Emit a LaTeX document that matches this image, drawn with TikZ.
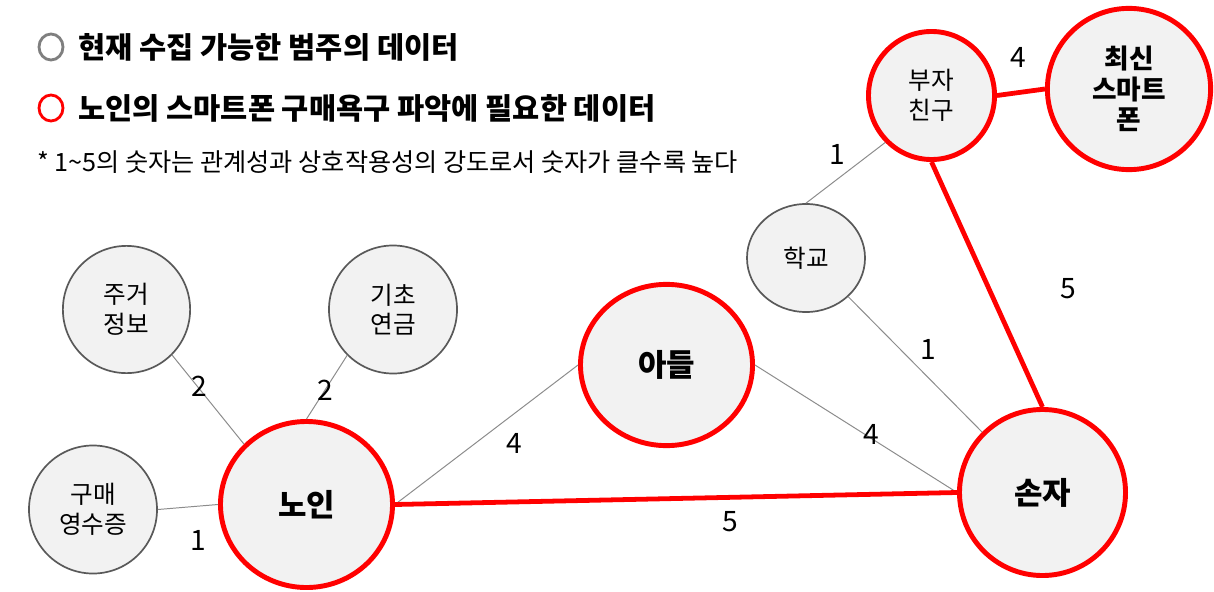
\documentclass[tikz,border=0pt]{standalone}
\usepackage{fontspec}
\setmainfont{Noto Sans CJK KR}
\usepackage{tikz}
\usepackage{xcolor}
\usetikzlibrary{positioning,shapes.geometric}
\definecolor{nodefill}{HTML}{F2F2F2}
\definecolor{rimgray}{HTML}{595959}
\definecolor{rimred}{HTML}{FF0000}
\definecolor{linkgray}{HTML}{8C8C8C}
\definecolor{keygray}{HTML}{7F7F7F}
\tikzset{
  datanode/.style={ellipse,draw=rimgray,fill=nodefill,line width=1.2pt,
                   inner sep=0pt,align=center,
                   font=\fontsize{17.5}{21}\selectfont},
  neednode/.style={datanode,draw=rimred,line width=3.5pt},
  bignode/.style={font=\fontsize{22}{26}\selectfont\bfseries},
  thinlink/.style={draw=linkgray,line width=0.7pt},
  redlink/.style={draw=rimred,line width=3.4pt},
  numlabel/.style={inner sep=0pt,font=\fontsize{20}{24}\selectfont},
  keycircle/.style={ellipse,draw,line width=2pt,fill=white,
                    minimum width=0.6cm,minimum height=0.65cm,inner sep=0pt},
  keytext/.style={anchor=west,inner sep=0pt,font=\fontsize{21}{25}\selectfont\bfseries}
}
\begin{document}
\begin{tikzpicture}[x=0.025cm,y=-0.025cm]
  \useasboundingbox[fill=white] (0,0) rectangle (1214,591);

  % legend
  \node[keycircle,draw=keygray] (keyA) at (51,47) {};
  \node[keytext] (keyAtext) at (78,47) {현재 수집 가능한 범주의 데이터};
  \node[keycircle,draw=rimred] (keyB) at (51,108) {};
  \node[keytext] (keyBtext) at (78,108) {노인의 스마트폰 구매욕구 파악에 필요한 데이터};
  \node[anchor=west,inner sep=0pt,font=\fontsize{17.9}{21}\selectfont] (note) at (37,162)
    {* 1\textasciitilde5의 숫자는 관계성과 상호작용성의 강도로서 숫자가 클수록 높다};

  % categories
  \node[datanode,minimum width=3.18cm,minimum height=3.18cm] (jugeo) at (126.5,309.5) {주거\\정보};
  \node[datanode,minimum width=3.2cm,minimum height=3.2cm] (gicho) at (393,309.5) {기초\\연금};
  \node[datanode,minimum width=3.2cm,minimum height=3.2cm] (gumae) at (93,509.5) {구매\\영수증};
  \node[neednode,bignode,minimum width=4.3cm,minimum height=4.15cm] (noin) at (306.5,504.5) {노인};
  \node[neednode,bignode,minimum width=4.3cm,minimum height=4.03cm] (adeul) at (666.5,365) {아들};
  \node[datanode,minimum width=2.95cm,minimum height=2.7cm] (hakgyo) at (806,258) {학교};
  \node[neednode,minimum width=3.15cm,minimum height=3.2cm] (buja) at (931.5,95.5) {부자\\친구};
  \node[neednode,font=\fontsize{19}{21.5}\selectfont\bfseries,
        minimum width=4.08cm,minimum height=4.03cm] (choesin) at (1129,89) {최신\\스마트\\폰};
  \node[neednode,bignode,minimum width=4.15cm,minimum height=4.15cm] (sonja) at (1042.5,492.5) {손자};

  % links
  \draw[thinlink] (jugeo.south east) -- (noin.north west);
  \draw[thinlink] (gicho.south west) -- (noin.north);
  \draw[thinlink] (gumae.east) -- (noin.west);
  \draw[thinlink] (noin.east) -- (adeul.west);
  \draw[thinlink] (adeul.east) -- (sonja.west);
  \draw[thinlink] (hakgyo.south east) -- (sonja.north west);
  \draw[thinlink] (hakgyo.north) -- (buja.south west);
  \draw[redlink] (noin.east) -- (sonja.west);
  \draw[redlink] (buja.south) -- (sonja.north);
  \draw[redlink] (buja.east) -- (choesin.west);

  % strengths
  \node[numlabel] (w1) at (199,386) {2};
  \node[numlabel] (w2) at (325,390) {2};
  \node[numlabel] (w3) at (198,540) {1};
  \node[numlabel] (w4) at (514,443) {4};
  \node[numlabel] (w5) at (730,522) {5};
  \node[numlabel] (w6) at (871,434) {4};
  \node[numlabel] (w7) at (928,349) {1};
  \node[numlabel] (w8) at (1068,289) {5};
  \node[numlabel] (w9) at (837,154) {1};
  \node[numlabel] (w10) at (1018,57) {4};
\end{tikzpicture}
\end{document}
